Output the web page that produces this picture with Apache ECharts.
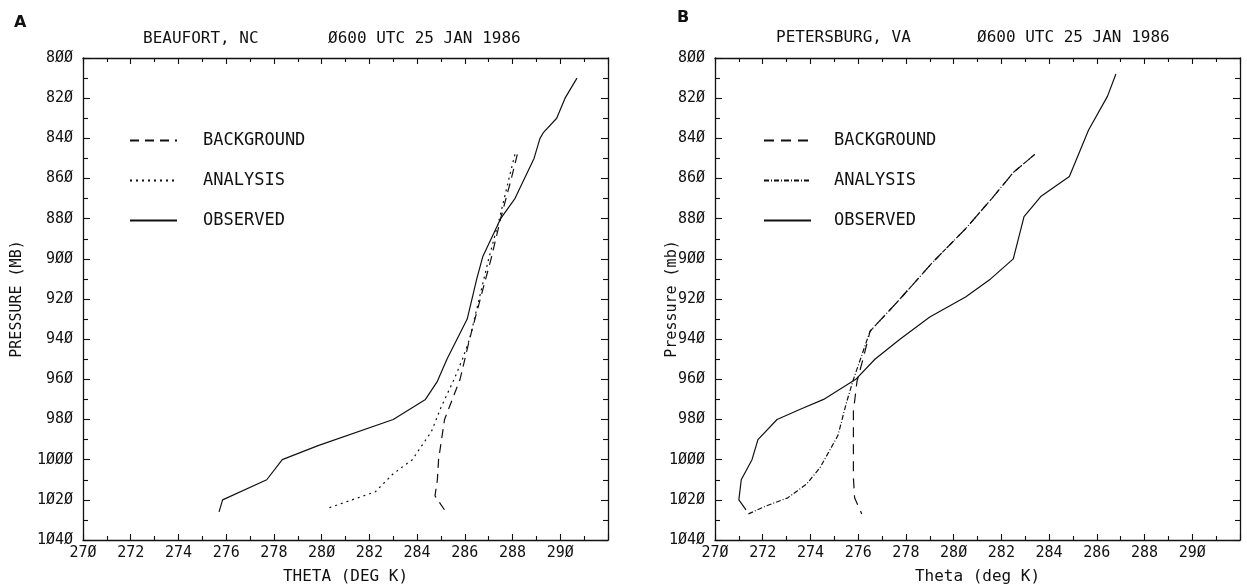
<!DOCTYPE html>
<html>
<head>
<meta charset="utf-8">
<script src="https://cdn.jsdelivr.net/npm/echarts@6/dist/echarts.min.js"></script>
<style>
  html, body { margin: 0; padding: 0; background: #fff; }
  #chart { width: 1247px; height: 585px; }
</style>
</head>
<body>
<div id="chart"></div>
<script>
// panel A - Beaufort, NC
let beaufortObsP = [810, 820, 830, 837, 840, 850, 870, 880, 899, 910, 930, 950, 961, 970, 980, 993, 1000, 1010, 1020, 1026];
let beaufortObsT = [290.7, 290.2, 289.85, 289.3, 289.15, 288.9, 288.1, 287.5, 286.75, 286.5, 286.1, 285.25, 284.85, 284.35, 283.0, 279.85, 278.35, 277.7, 275.85, 275.7];
let beaufortBgP = [848, 860, 880, 900, 920, 940, 960, 980, 1000, 1010, 1018, 1025];
let beaufortBgT = [288.2, 287.95, 287.5, 287.1, 286.65, 286.2, 285.8, 285.15, 284.9, 284.85, 284.75, 285.15];
let beaufortAnP = [848, 860, 880, 900, 920, 940, 950, 960, 974, 986, 1000, 1007, 1016, 1024];
let beaufortAnT = [288.1, 287.85, 287.45, 287.0, 286.6, 286.2, 285.9, 285.55, 285.0, 284.6, 283.8, 283.0, 282.25, 280.3];

// panel B - Petersburg, VA
let petersObsP = [808, 819, 836, 859, 869, 879, 900, 910, 919, 929, 940, 950, 960, 970, 975, 980, 990, 1000, 1010, 1020, 1025];
let petersObsT = [286.8, 286.45, 285.65, 284.85, 283.65, 282.95, 282.5, 281.55, 280.5, 279.0, 277.75, 276.7, 275.9, 274.55, 273.55, 272.6, 271.8, 271.55, 271.1, 271.0, 271.3];
let petersBgP = [848, 857, 870, 885, 902, 922, 936, 950, 961, 976, 1009, 1019, 1027];
let petersBgT = [283.4, 282.5, 281.6, 280.5, 279.1, 277.6, 276.5, 276.2, 275.95, 275.8, 275.8, 275.85, 276.15];
let petersAnP = [848, 857, 870, 885, 902, 922, 936, 948, 960, 972, 988, 1004, 1012, 1019, 1023, 1027];
let petersAnT = [283.4, 282.5, 281.6, 280.5, 279.1, 277.6, 276.5, 276.15, 275.8, 275.5, 275.15, 274.4, 273.85, 273.05, 272.15, 271.4];

let legendNames = ['BACKGROUND', 'ANALYSIS', 'OBSERVED'];
let thetaMin = 270, thetaMax = 292, thetaStep = 2;
let presMin = 800, presMax = 1040, presStep = 20;

let FONT = 'DejaVu Sans Mono';
let INK = '#111';

// shallow merge helper
let ext = function (a, b) { return Object.assign({}, a, b); };

function pairs(t, p) {
    return t.map(function (v, i) { return [v, p[i]]; });
}
// plotter style slashed zero
function slashZero(v) {
    return String(v).replace(/0/g, 'Ø');
}

let chart = echarts.init(document.getElementById('chart'), null, { renderer: 'canvas' });

function xAxes(gridIndex, name) {
    let base = {
        type: 'value', gridIndex: gridIndex,
        min: thetaMin, max: thetaMax, interval: thetaStep,
        splitLine: { show: false },
        axisLine: { show: true, onZero: false, lineStyle: { color: INK, width: 1.3 } },
        axisTick: { inside: true, length: 6, lineStyle: { color: INK, width: 1.1 } },
        minorTick: { show: true, splitNumber: 2, length: 4, lineStyle: { color: INK, width: 1.1 } }
    };
    return [
        ext(base, {
            position: 'bottom',
            name: name, nameLocation: 'middle', nameGap: 29, nameMoveOverlap: false,
            nameTextStyle: { fontFamily: FONT, fontSize: 16, color: INK },
            axisLabel: {
                margin: 6, fontFamily: FONT, fontSize: 15, color: INK,
                formatter: function (v) { return v >= thetaMax ? '' : slashZero(v); }
            }
        }),
        ext(base, { position: 'top', axisLabel: { show: false } })
    ];
}

function yAxes(gridIndex, name, gap) {
    let base = {
        type: 'value', gridIndex: gridIndex, inverse: true,
        min: presMin, max: presMax, interval: presStep,
        splitLine: { show: false },
        axisLine: { show: true, onZero: false, lineStyle: { color: INK, width: 1.3 } },
        axisTick: { inside: true, length: 7, lineStyle: { color: INK, width: 1.1 } },
        minorTick: { show: true, splitNumber: 2, length: 5, lineStyle: { color: INK, width: 1.1 } }
    };
    return [
        ext(base, {
            position: 'left',
            name: name, nameLocation: 'middle', nameGap: gap, nameMoveOverlap: false,
            nameTextStyle: { fontFamily: FONT, fontSize: 15, color: INK },
            axisLabel: {
                margin: 10, fontFamily: FONT, fontSize: 15, color: INK,
                formatter: function (v) { return slashZero(v); }
            }
        }),
        ext(base, { position: 'right', axisLabel: { show: false } })
    ];
}

function lineSeries(name, xi, yi, data, dash) {
    return {
        name: name, type: 'line', xAxisIndex: xi, yAxisIndex: yi,
        data: data, symbol: 'none', silent: true, animation: false,
        itemStyle: { color: INK },
        lineStyle: { color: INK, width: 1.2, type: dash }
    };
}

function legendFor(left, textGap, suffix) {
    return {
        orient: 'vertical', left: left, top: 132, padding: 0,
        itemWidth: 47, itemHeight: 14, itemGap: 23,
        selectedMode: false,
        itemStyle: { opacity: 0 },
        data: legendNames.map(function (n) { return n + suffix; }),
        formatter: function (n) { return n.split('|')[0]; },
        textStyle: { fontFamily: FONT, fontSize: 17, lineHeight: 14, color: INK, padding: [0, 0, 0, textGap] }
    };
}

function titleText(text, left, top, bold) {
    return {
        text: text, left: left, top: top, padding: 0,
        textStyle: {
            fontFamily: bold ? 'DejaVu Sans' : FONT, fontSize: 16,
            fontWeight: bold ? 'bold' : 'normal', color: INK
        }
    };
}

let option = {
    backgroundColor: '#fff',
    animation: false,
    title: [
        titleText('A', 14, 15, true),
        titleText('BEAUFORT, NC', 143, 31, false),
        titleText('Ø600 UTC 25 JAN 1986', 328, 31, false),
        titleText('B', 677, 10, true),
        titleText('PETERSBURG, VA', 776, 30, false),
        titleText('Ø600 UTC 25 JAN 1986', 977, 30, false)
    ],
    grid: [
        { left: 83, right: 639, top: 58, bottom: 45, containLabel: false, outerBoundsMode: 'none' },
        { left: 715, right: 7, top: 58, bottom: 45, containLabel: false, outerBoundsMode: 'none' }
    ],
    legend: [
        legendFor(129, 21, '|A'),
        legendFor(763, 18, '|B')
    ],
    xAxis: xAxes(0, 'THETA (DEG K)').concat(xAxes(1, 'Theta (deg K)')),
    yAxis: yAxes(0, 'PRESSURE (MB)', 58).concat(yAxes(1, 'Pressure (mb)', 35)),
    series: [
        lineSeries('BACKGROUND|A', 0, 0, pairs(beaufortBgT, beaufortBgP), [9, 6]),
        lineSeries('ANALYSIS|A', 0, 0, pairs(beaufortAnT, beaufortAnP), [2, 4]),
        lineSeries('OBSERVED|A', 0, 0, pairs(beaufortObsT, beaufortObsP), 'solid'),
        lineSeries('BACKGROUND|B', 2, 2, pairs(petersBgT, petersBgP), [10, 7]),
        lineSeries('ANALYSIS|B', 2, 2, pairs(petersAnT, petersAnP), [5, 2, 1, 2]),
        lineSeries('OBSERVED|B', 2, 2, pairs(petersObsT, petersObsP), 'solid')
    ]
};

chart.setOption(option);
</script>
</body>
</html>
